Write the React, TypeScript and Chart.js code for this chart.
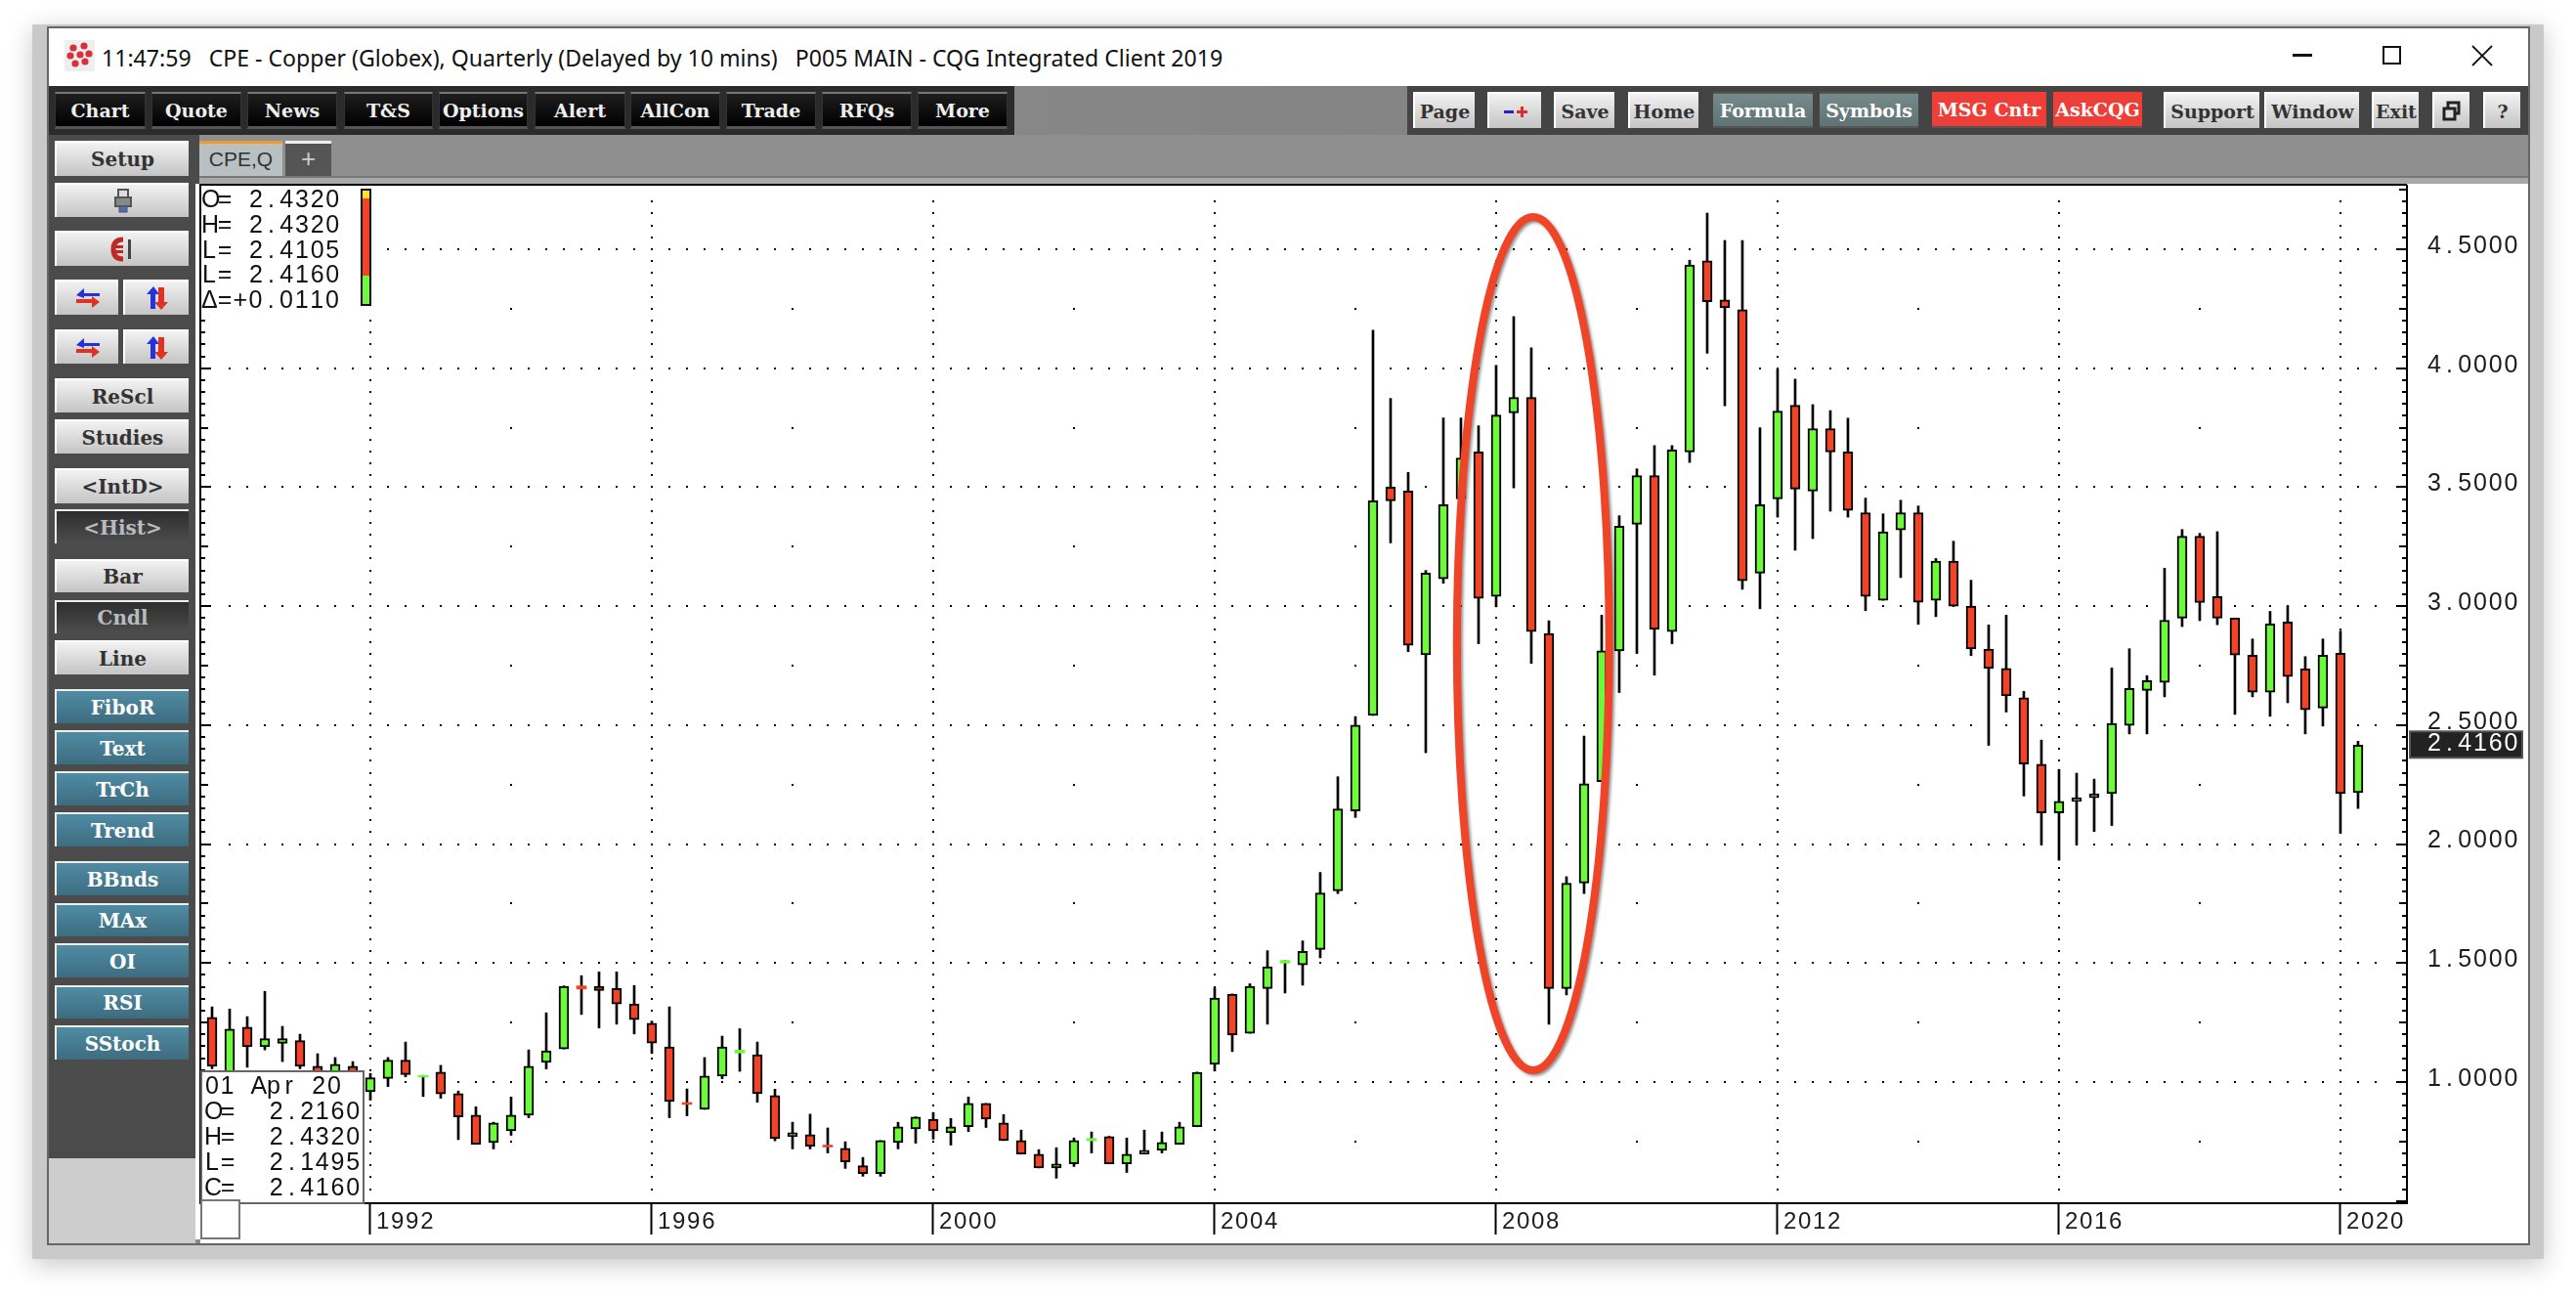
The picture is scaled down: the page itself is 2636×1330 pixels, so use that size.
import React, { useEffect, useRef } from "react";
import { Chart, registerables } from "chart.js";

Chart.register(...registerables);

const opens = [1.272,1.015,1.231,1.148,1.163,1.174,1.066,1.022,1.066,0.959,1.015,1.092,1.021,1.042,0.951,0.861,0.746,0.795,0.861,1.082,1.139,1.404,1.402,1.393,1.328,1.247,1.148,0.914,0.885,1.025,1.122,1.115,0.943,0.771,0.779,0.735,0.721,0.648,0.615,0.746,0.803,0.844,0.787,0.812,0.910,0.828,0.754,0.697,0.639,0.656,0.753,0.771,0.656,0.697,0.713,0.738,0.812,1.074,1.369,1.205,1.393,1.500,1.492,1.557,1.803,2.139,2.541,3.500,3.484,2.795,3.115,3.451,3.648,3.041,3.812,3.877,2.885,1.393,1.836,2.262,2.812,3.344,3.549,2.893,3.648,4.451,4.287,4.246,3.139,3.451,3.844,3.484,3.746,3.648,3.393,3.025,3.320,3.393,3.025,3.189,3.000,2.820,2.738,2.615,2.336,2.131,2.179,2.195,2.212,2.499,2.646,2.679,2.950,3.294,3.040,2.950,2.794,2.638,2.933,2.736,2.572,2.802,2.216];
const highs = [1.316,1.307,1.275,1.381,1.234,1.201,1.119,1.103,1.086,1.036,1.103,1.168,1.028,1.070,0.962,0.896,0.831,0.937,1.135,1.291,1.404,1.447,1.463,1.463,1.406,1.256,1.316,0.971,1.103,1.193,1.224,1.168,0.970,0.831,0.865,0.807,0.749,0.683,0.754,0.831,0.854,0.872,0.847,0.937,0.910,0.863,0.798,0.716,0.724,0.765,0.790,0.772,0.765,0.798,0.790,0.831,1.042,1.396,1.370,1.413,1.552,1.511,1.593,1.881,2.283,2.536,4.160,3.873,3.562,3.150,3.791,3.791,3.758,4.012,4.217,4.086,2.939,1.863,2.454,2.962,3.380,3.577,3.675,3.675,4.454,4.652,4.537,4.537,3.750,3.995,3.954,3.847,3.822,3.790,3.454,3.388,3.445,3.421,3.200,3.273,3.109,2.921,2.962,2.642,2.437,2.314,2.298,2.273,2.740,2.821,2.708,3.159,3.322,3.306,3.313,2.950,2.862,2.978,3.001,2.788,2.862,2.895,2.432];
const lows = [1.056,1.000,1.062,1.135,1.086,1.056,1.000,1.008,1.015,0.924,0.981,1.022,0.939,0.932,0.758,0.738,0.719,0.776,0.850,1.055,1.139,1.284,1.227,1.243,1.202,1.120,0.850,0.858,0.885,1.014,1.045,0.915,0.753,0.719,0.719,0.702,0.637,0.604,0.604,0.719,0.743,0.760,0.735,0.792,0.809,0.754,0.697,0.639,0.596,0.645,0.702,0.656,0.620,0.697,0.702,0.738,0.812,1.046,1.128,1.205,1.243,1.374,1.407,1.522,1.792,2.112,2.541,3.266,2.809,2.384,3.096,3.300,2.842,2.997,3.497,2.760,1.243,1.366,1.792,2.262,2.637,2.801,2.710,2.842,3.604,4.063,3.842,3.071,2.989,3.374,3.235,3.284,3.399,3.374,2.981,3.025,3.120,2.924,2.956,3.000,2.792,2.415,2.555,2.202,1.997,1.932,1.996,2.053,2.078,2.463,2.463,2.619,2.914,2.939,2.922,2.545,2.619,2.537,2.594,2.463,2.496,2.045,2.1495];
const closes = [1.066,1.223,1.148,1.182,1.182,1.066,1.015,1.075,1.029,1.018,1.092,1.031,1.028,0.950,0.853,0.738,0.828,0.861,1.066,1.131,1.402,1.391,1.384,1.328,1.262,1.164,0.918,0.906,1.025,1.148,1.134,0.951,0.762,0.787,0.730,0.727,0.664,0.615,0.754,0.812,0.853,0.795,0.812,0.910,0.844,0.754,0.697,0.639,0.656,0.754,0.763,0.656,0.697,0.713,0.746,0.812,1.041,1.353,1.197,1.402,1.484,1.511,1.549,1.795,2.148,2.500,3.443,3.443,2.836,3.139,3.426,3.623,3.033,3.803,3.877,2.893,1.393,1.836,2.254,2.812,3.336,3.549,2.902,3.656,4.434,4.279,4.254,3.107,3.426,3.820,3.492,3.746,3.648,3.402,3.041,3.312,3.393,3.016,3.189,3.000,2.820,2.738,2.623,2.336,2.131,2.180,2.195,2.212,2.507,2.654,2.687,2.941,3.294,3.015,2.950,2.794,2.638,2.925,2.704,2.564,2.794,2.212,2.416];

const firstYear = 1989;
const firstQuarter = 4;
const quarterLabels = opens.map((_, i) => {
  const q = firstQuarter - 1 + i;
  return `${firstYear + Math.floor(q / 4)} Q${(q % 4) + 1}`;
});
const yearTicks = [1992, 1996, 2000, 2004, 2008, 2012, 2016, 2020];
const priceTicks = [1, 1.5, 2, 2.5, 3, 3.5, 4, 4.5];
const yearIndex = (y: number) => quarterLabels.indexOf(`${y} Q1`);
const midYearIndexes = yearTicks.slice(0, -1).map((y) => yearIndex(y + 2));

const lastClose = closes[closes.length - 1];
// Hand-drawn ring, in data units (quarter index, price)
const ringCentreIndex = 75.1;
const ringHalfQuarters = 4.33;
const ringTop = 4.636;
const ringBottom = 1.049;

const GREEN = "#6EF93F";
const RED = "#EF4427";
const FONT = "'Liberation Sans', Arial, sans-serif";
const BTN_FONT = "'DejaVu Serif', serif";
const PRICE_CELL = 15.7;

const isDoji = (i: number) => Math.abs(opens[i] - closes[i]) < 0.0145;
const round2 = (n: number) => Math.round(n * 100) / 100;

const chrome = {
  id: "chrome",
  beforeDraw(chart: any) {
    const ctx = chart.ctx;
    ctx.letterSpacing = "1.7px";
    if (!ctx.__cells) {
      // the terminal prints prices in fixed-width cells, the point taking a whole cell
      const native = ctx.fillText.bind(ctx);
      ctx.__cells = true;
      ctx.fillText = (t: string, x: number, y: number, m?: number) => {
        if (!/^\d\.\d{4}$/.test(String(t))) {
          return m === undefined ? native(t, x, y) : native(t, x, y, m);
        }
        ctx.save();
        ctx.letterSpacing = "0px";
        ctx.textAlign = "center";
        String(t).split("").forEach((c, i) => native(c, x + (i + 0.5) * PRICE_CELL, y));
        ctx.restore();
      };
    }
  },
  beforeDatasetsDraw(chart: any) {
    const { ctx, scales } = chart;
    const { x, y } = scales;
    ctx.save();
    ctx.fillStyle = "#000";
    const dot = (px: number, py: number) =>
      ctx.fillRect(Math.round(px) - 1, Math.round(py) - 1, 2, 2);
    for (const p of priceTicks) {
      for (let i = 1; i <= opens.length; i++) dot(x.getPixelForValue(i), y.getPixelForValue(p));
    }
    for (const yr of yearTicks) {
      const px = x.getPixelForValue(yearIndex(yr));
      for (let k = 11; k <= 94; k++) dot(px, y.getPixelForValue(k * 0.05));
    }
    for (const idx of midYearIndexes) {
      const px = x.getPixelForValue(idx);
      for (let k = 0; k < 8; k++) dot(px, y.getPixelForValue(0.75 + k * 0.5));
    }
    ctx.restore();
  },
  afterDatasetsDraw(chart: any) {
    const { ctx, scales, chartArea } = chart;
    const { x, y } = scales;
    ctx.save();
    // axis ticks, both sides
    ctx.fillStyle = "#000";
    for (let k = 10; k <= 95; k++) {
      const v = k * 0.05;
      const len = k % 10 === 0 ? 11 : k % 5 === 0 ? 8 : 5;
      const py = Math.round(y.getPixelForValue(v)) - 1;
      ctx.fillRect(chartArea.right - len, py, len, 2);
      ctx.fillRect(chartArea.left, py, len, 2);
    }
    ctx.fillRect(chartArea.left - 1, chartArea.top - 2, 2, chartArea.bottom - chartArea.top + 2);
    ctx.fillRect(chartArea.left, chartArea.top - 2, chartArea.right - chartArea.left, 2);
    // ring
    const cx = x.getPixelForValue(ringCentreIndex);
    const rx = x.getPixelForValue(ringCentreIndex + ringHalfQuarters) - cx;
    const top = y.getPixelForValue(ringTop);
    const bottom = y.getPixelForValue(ringBottom);
    ctx.beginPath();
    ctx.ellipse(cx, (top + bottom) / 2, rx, (bottom - top) / 2, 0, 0, Math.PI * 2);
    ctx.strokeStyle = RED;
    ctx.lineWidth = 8;
    ctx.shadowColor = "rgba(60,60,60,0.55)";
    ctx.shadowBlur = 3;
    ctx.shadowOffsetX = 2;
    ctx.shadowOffsetY = 2;
    ctx.stroke();
    ctx.restore();
  },
  afterDraw(chart: any) {
    const { ctx, scales, chartArea, width } = chart;
    const { y } = scales;
    const py = y.getPixelForValue(lastClose);
    ctx.save();
    ctx.fillStyle = "#555";
    ctx.fillRect(chartArea.right + 2, py - 15, width - chartArea.right - 2, 29);
    ctx.fillStyle = "#222";
    ctx.fillRect(chartArea.right + 4, py - 13, width - chartArea.right - 6, 25);
    ctx.fillStyle = "#fff";
    ctx.font = `25px ${FONT}`;
    ctx.textBaseline = "middle";
    ctx.textAlign = "left";
    ctx.fillText(lastClose.toFixed(4), chartArea.right + 20, py - 1);
    ctx.restore();
  },
};

type Btn = [string, number, number];
const menuLeft: Btn[] = [["Chart",56,149],["Quote",155,247],["News",253,345],["T&S",352,443],["Options",449,540],["Alert",547,640],["AllCon",645,737],["Trade",743,835],["RFQs",841,933],["More",939,1031]];
const menuRight: (Btn | [string, number, number, string])[] = [["Page",1446,1509],["",1522,1577],["Save",1590,1652],["Home",1666,1738],["Formula",1753,1855,"teal"],["Symbols",1862,1963,"teal"],["MSG Cntr",1977,2094,"red"],["AskCQG",2101,2192,"red"],["Support",2214,2312],["Window",2317,2414],["Exit",2427,2475],["",2489,2527],["?",2541,2579]];
const sideButtons: [string, number, number, string][] = [["Setup",144,180,"l"],["",187,222,"l"],["",236,272,"l"],["ReScl",387,422,"l"],["Studies",429,464,"l"],["<IntD>",479,515,"l"],["<Hist>",521,556,"d"],["Bar",572,606,"l"],["Cndl",614,648,"d"],["Line",655,690,"l"],["FiboR",705,740,"t"],["Text",747,782,"t"],["TrCh",789,824,"t"],["Trend",831,866,"t"],["BBnds",881,916,"t"],["MAx",924,958,"t"],["OI",965,1000,"t"],["RSI",1008,1042,"t"],["SStoch",1049,1084,"t"]];
const sidePairs: [number, number][] = [[286,322],[337,372]];
const quoteTop: [string, string][] = [["O=","2.4320"],["H=","2.4320"],["L=","2.4105"],["L=","2.4160"],["Δ=","+0.0110"]];
const quoteBottom: [string, string][] = [["O=","2.2160"],["H=","2.4320"],["L=","2.1495"],["C=","2.4160"]];

const abs = (l: number, t: number, w: number, h: number, extra: React.CSSProperties = {}): React.CSSProperties => ({
  position: "absolute", left: l, top: t, width: w, height: h, boxSizing: "border-box", ...extra,
});

const Mono = ({ text, cell = 15.7 }: { text: string; cell?: number }) => (
  <span>
    {text.split("").map((c, i) => (
      <span key={i} style={{ display: "inline-block", width: cell, textAlign: "center" }}>{c}</span>
    ))}
  </span>
);

const btnStyle = (kind: string): React.CSSProperties => {
  const base: React.CSSProperties = {
    display: "flex", alignItems: "center", justifyContent: "center",
    fontFamily: BTN_FONT, fontWeight: 700, whiteSpace: "nowrap", overflow: "hidden",
  };
  if (kind === "black") return { ...base, color: "#eee", background: "linear-gradient(#1e1e1e,#000)", borderTop: "2px solid #777", borderBottom: "3px solid #555", borderLeft: "1px solid #333", borderRight: "1px solid #333" };
  if (kind === "teal") return { ...base, color: "#fff", background: "linear-gradient(#76898b,#5f7375)", borderTop: "2px solid #555", borderBottom: "2px solid #555" };
  if (kind === "red") return { ...base, color: "#fff", background: "#EE3E37", borderBottom: "2px solid #555" };
  if (kind === "d") return { ...base, color: "#b8bcc0", background: "linear-gradient(#2d2d2d,#4e4e4e)", borderTop: "2px solid #eee", borderLeft: "2px solid #eee" };
  if (kind === "t") return { ...base, color: "#fff", background: "linear-gradient(#4f8ca3,#3d6c80)", borderTop: "2px solid #eee", borderLeft: "2px solid #eee" };
  return { ...base, color: "#333", background: "linear-gradient(#f2f2f2,#c4c4c4)", borderTop: "2px solid #fff", borderLeft: "2px solid #fff" };
};

const Arrows = ({ a, b, vertical }: { a: string; b: string; vertical?: boolean }) => (
  <svg width="30" height="26" viewBox="0 0 30 26">
    {vertical ? (
      <>
        <path d="M8 24 V9 H4 L11 1 L17 9 H13 V24 Z" fill={a} />
        <path d="M16 2 V17 H12 L19 25 L26 17 H22 V2 Z" fill={b} />
      </>
    ) : (
      <>
        <path d="M27 8 H11 V3 L3 10 L11 13 V11 H27 Z" fill={a} />
        <path d="M3 14 H19 V11 L27 17 L19 23 V18 H3 Z" fill={b} />
      </>
    )}
  </svg>
);

export default function App() {
  const ref = useRef<HTMLCanvasElement>(null);
  useEffect(() => {
    document.body.style.margin = "0";
    document.body.style.background = "#fff";
    const chart = new Chart(ref.current as HTMLCanvasElement, {
      type: "bar",
      data: {
        labels: quarterLabels,
        datasets: [
          {
            label: "Open / Close",
            order: 0,
            grouped: false,
            barThickness: 10,
            data: opens.map((o, i) => ({ x: i, y: [o, closes[i]] })),
            backgroundColor: (c: any) => (closes[c.dataIndex] >= opens[c.dataIndex] ? GREEN : RED),
            borderColor: "#000",
            borderWidth: (c: any) => (isDoji(c.dataIndex) ? 0 : 2),
            borderSkipped: false,
          } as any,
          {
            label: "High / Low",
            order: 1,
            grouped: false,
            barThickness: 2,
            data: lows.map((l, i) => ({ x: i, y: [l, highs[i]] })),
            backgroundColor: "#000",
            borderWidth: 0,
          } as any,
        ],
      },
      options: {
        animation: false,
        responsive: false,
        devicePixelRatio: 1,
        layout: { padding: { left: 5, top: 2, right: 0, bottom: 0 } },
        plugins: { legend: { display: false }, tooltip: { enabled: false }, title: { display: false } },
        scales: {
          x: {
            type: "linear",
            offset: false,
            min: -0.6667,
            max: 124.78,
            afterBuildTicks: (s: any) => {
              s.ticks = yearTicks.map((y) => ({ value: yearIndex(y) }));
            },
            afterFit: (s: any) => {
              s.height = 37;
              s.paddingLeft = 0;
              s.paddingRight = 0;
            },
            grid: { drawOnChartArea: false, drawTicks: true, tickLength: 32, tickWidth: 2, tickColor: "#000", offset: false },
            border: { display: true, color: "#000", width: 2 },
            ticks: {
              autoSkip: false,
              maxRotation: 0,
              minRotation: 0,
              align: "start",
              padding: -27,
              labelOffset: 6,
              color: "#1c1c1c",
              font: { family: FONT, size: 24 },
              callback: (v: any) => yearTicks[yearTicks.findIndex((y) => yearIndex(y) === v)],
            },
          },
          y: {
            type: "linear",
            position: "right",
            min: 0.4906,
            max: 4.767,
            afterBuildTicks: (s: any) => {
              s.ticks = priceTicks.map((v) => ({ value: v }));
            },
            afterFit: (s: any) => {
              s.width = 119;
              s.paddingTop = 0;
              s.paddingBottom = 0;
            },
            grid: { drawOnChartArea: false, drawTicks: false },
            border: { display: true, color: "#000", width: 2 },
            ticks: {
              padding: 20,
              crossAlign: "near",
              labelOffset: -3,
              color: "#1c1c1c",
              font: { family: FONT, size: 25 },
              callback: (v: any) => round2(Number(v)).toFixed(4),
            },
          },
        } as any,
      },
      plugins: [chrome],
    });
    return () => chart.destroy();
  }, []);

  return (
    <div style={{ position: "absolute", left: 0, top: 0, width: 2636, height: 1330, overflow: "hidden", background: "#fff" }}>
      {/* outer frame */}
      <div style={abs(33, 25, 2570, 1263, { background: "#C9C9C9", boxShadow: "0 6px 24px rgba(0,0,0,0.22)" })} />
      <div style={abs(48, 27, 2541, 1247, { background: "#fff", border: "2px solid #666" })} />
      {/* title */}
      <svg style={abs(66, 41, 31, 32)} viewBox="0 0 31 32">
        <rect width="31" height="32" fill="#eee" />
        {[[9,8],[20,6],[6,16],[16,15],[25,14],[11,24],[21,22]].map(([cx, cy], i) => (
          <circle key={i} cx={cx} cy={cy} r="3.6" fill="#d8303a" />
        ))}
      </svg>
      <div style={{ position: "absolute", left: 104, top: 43, fontFamily: "'Noto Sans', sans-serif", fontSize: 23.1, color: "#111", whiteSpace: "pre", lineHeight: "32px" }}>
        {"11:47:59   CPE - Copper (Globex), Quarterly (Delayed by 10 mins)   P005 MAIN - CQG Integrated Client 2019"}
      </div>
      <div style={abs(2346, 55, 20, 3, { background: "#111" })} />
      <div style={abs(2438, 47, 19, 19, { border: "2px solid #111" })} />
      <svg style={abs(2529, 46, 22, 22)} viewBox="0 0 22 22"><path d="M1 1 L21 21 M21 1 L1 21" stroke="#111" strokeWidth="1.8" /></svg>

      {/* menu */}
      <div style={abs(50, 88, 2537, 50, { background: "linear-gradient(90deg,#8f8f8f,#7a7a7a)" })} />
      <div style={abs(50, 88, 988, 50, { background: "#2b2b2b" })} />
      <div style={abs(1440, 88, 1147, 50, { background: "#444" })} />
      {menuLeft.map(([t, l, r]) => (
        <div key={t} style={{ ...abs(l, 94, r - l, 38), ...btnStyle("black"), fontSize: 19 }}>{t}</div>
      ))}
      {menuRight.map(([t, l, r, k], i) => (
        <div key={i} style={{ ...abs(l, 94, r - l, 37), ...btnStyle((k as string) || "l"), fontSize: 19 }}>
          {t}
          {i === 1 && (<svg width="30" height="14" viewBox="0 0 30 14"><rect x="3" y="6" width="10" height="3" fill="#2222cc" /><path d="M16 6 H20 V2 H23 V6 H27 V9 H23 V13 H20 V9 H16 Z" fill="#d83030" /></svg>)}
          {i === 11 && (<svg width="20" height="22" viewBox="0 0 20 22"><rect x="6" y="2" width="11" height="11" fill="none" stroke="#222" strokeWidth="3" /><rect x="2" y="8" width="11" height="11" fill="#ddd" stroke="#222" strokeWidth="3" /></svg>)}
        </div>
      ))}

      {/* tab band */}
      <div style={abs(200, 138, 2387, 44, { background: "#8F8F8F" })} />
      <div style={abs(200, 180, 2387, 8, { background: "#A8A8A8", borderTop: "2px solid #777" })} />
      <div style={abs(204, 144, 85, 36, { background: "#B9C0C2", borderTop: "3px solid #EE9A2E", fontFamily: FONT, fontSize: 21, color: "#333", textAlign: "center", lineHeight: "32px" })}>CPE,Q</div>
      <div style={abs(292, 144, 47, 36, { background: "#555", borderTop: "3px solid #eee", fontFamily: FONT, fontSize: 26, color: "#ccc", textAlign: "center", lineHeight: "30px" })}>+</div>

      {/* side panel */}
      <div style={abs(50, 138, 154, 1047, { background: "#4B4B4B" })} />
      <div style={abs(50, 1185, 154, 87, { background: "#CDCDCD" })} />
      <div style={abs(200, 1185, 5, 87, { background: "#8a8a8a" })} />
      {sideButtons.map(([t, top, bottom, k], i) => (
        <div key={i} style={{ ...abs(56, top, 137, bottom - top), ...btnStyle(k), fontSize: 20 }}>
          {t}
          {i === 1 && (<svg width="22" height="26" viewBox="0 0 22 26"><rect x="6" y="1" width="10" height="9" fill="#ddd" stroke="#555" strokeWidth="2" /><rect x="3" y="9" width="16" height="9" fill="#888" stroke="#555" strokeWidth="2" /><rect x="7" y="18" width="8" height="6" fill="#4a6fc0" stroke="#555" /></svg>)}
          {i === 2 && (<svg width="26" height="26" viewBox="0 0 26 26"><path d="M13 3 C5 3 3 8 3 13 C3 18 5 23 13 23" fill="none" stroke="#c02828" strokeWidth="5" /><rect x="1" y="9" width="12" height="3" fill="#c02828" /><rect x="1" y="14" width="12" height="3" fill="#c02828" /><rect x="18" y="3" width="3" height="20" fill="#444" /></svg>)}
        </div>
      ))}
      {sidePairs.map(([top, bottom], r) => (
        <React.Fragment key={r}>
          <div style={{ ...abs(56, top, 65, bottom - top), ...btnStyle("l") }}><Arrows a="#2233dd" b="#dd3322" /></div>
          <div style={{ ...abs(126, top, 67, bottom - top), ...btnStyle("l") }}><Arrows a="#2233dd" b="#dd3322" vertical /></div>
        </React.Fragment>
      ))}

      {/* plot panel */}
      <canvas ref={ref} width={2382} height={1080} style={{ position: "absolute", left: 200, top: 188, display: "block", background: "#fff" }} />

      {/* top-left quote */}
      <div style={abs(206, 190, 178, 127, { background: "#fff", fontFamily: FONT, fontSize: 25, color: "#111" })}>
        {quoteTop.map(([a, b], i) => (
          <div key={i} style={{ position: "absolute", left: 0, top: i * 25.8, height: 26, lineHeight: "26px", whiteSpace: "pre" }}>
            <Mono text={a} cell={16} />
            {b.length === 6 && <span style={{ display: "inline-block", width: 16 }} />}
            <Mono text={b} />
          </div>
        ))}
        <div style={abs(163, 3, 11, 120, { background: RED, border: "2px solid #111" })} />
        <div style={abs(165, 5, 7, 8, { background: "#FFE22E" })} />
        <div style={abs(165, 92, 7, 29, { background: "#6EF93F" })} />
      </div>

      {/* bottom-left quote */}
      <div style={abs(205, 1095, 168, 137, { background: "#fff", border: "2.5px solid #666", fontFamily: FONT, fontSize: 25, color: "#111" })}>
        <div style={{ position: "absolute", left: 2, top: 0, height: 26, lineHeight: "26px", whiteSpace: "pre" }}>
          <Mono text="01" /><span style={{ display: "inline-block", width: 16 }} /><Mono text="Apr" /><span style={{ display: "inline-block", width: 15 }} /><Mono text="20" />
        </div>
        {quoteBottom.map(([a, b], i) => (
          <div key={i} style={{ position: "absolute", left: 2, right: 2, top: 26 + i * 26, height: 26, lineHeight: "26px", display: "flex", justifyContent: "space-between" }}>
            <Mono text={a} cell={16} />
            <Mono text={b} />
          </div>
        ))}
      </div>
      <div style={abs(205, 1227, 41, 41, { background: "#fff", border: "2.5px solid #777" })} />
    </div>
  );
}
